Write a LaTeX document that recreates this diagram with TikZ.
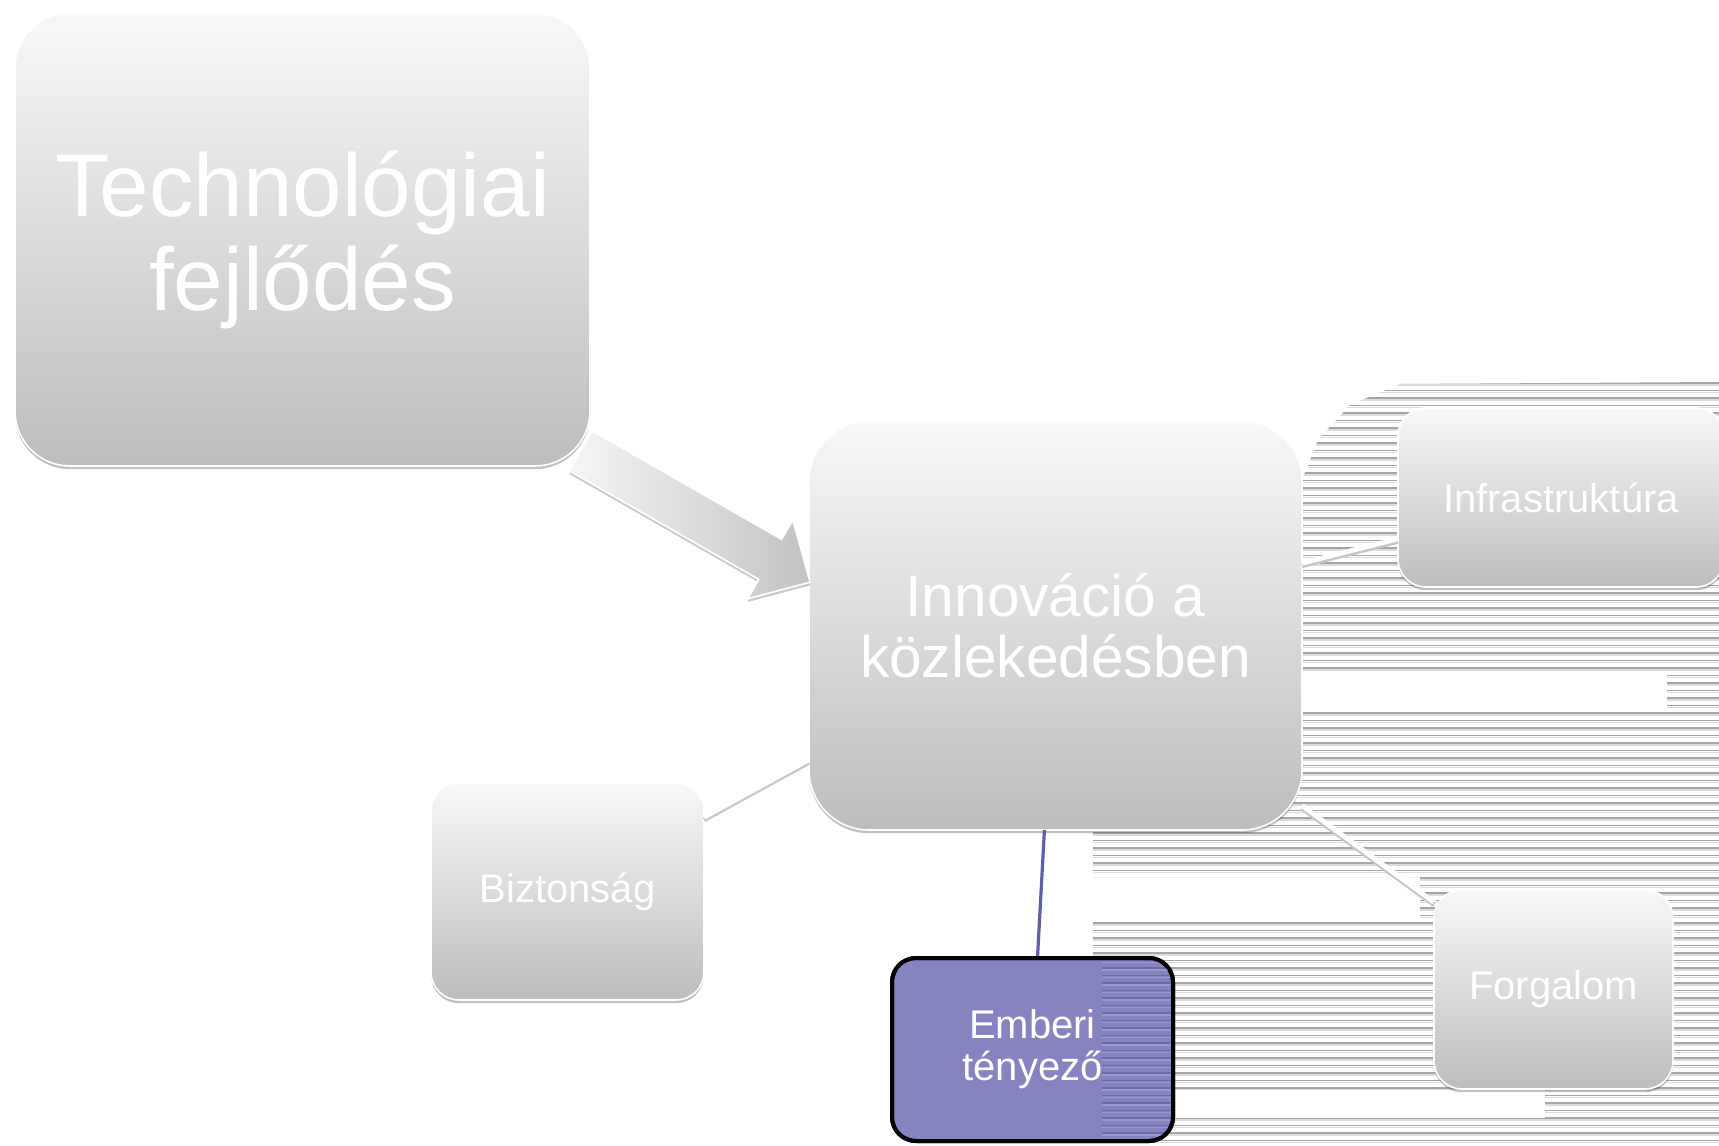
\documentclass[tikz,border=0pt]{standalone}
\usepackage{fontspec}
\setmainfont{Liberation Sans}
\usetikzlibrary{shadows}

\definecolor{boxtop}{HTML}{F8F8F8}
\definecolor{boxbot}{HTML}{BDBDBD}
\definecolor{arrtop}{HTML}{F6F6F6}
\definecolor{arrbot}{HTML}{C2C2C2}
\definecolor{embfill}{HTML}{8583C0}
\definecolor{embline}{HTML}{5F5FA8}
\definecolor{stripedark}{HTML}{A6A6A6}
\definecolor{stripelight}{HTML}{DCDCDC}
\definecolor{pstripedark}{HTML}{6C6AAA}
\definecolor{pstripelight}{HTML}{9A98CC}

\tikzset{
  boxshadow/.style={drop shadow={shadow xshift=0pt, shadow yshift=-1.6pt, opacity=0.35, fill=black!70}},
  gbox/.style={rectangle, draw=white, line width=0.8pt, top color=boxtop, bottom color=boxbot,
    text=white, align=center, inner sep=0pt, outer sep=0pt, boxshadow},
  smalltext/.style={font=\fontsize{20}{21}\selectfont},
  wline/.style={draw=white, line width=2.4pt,
    preaction={draw=black!22, line width=2.4pt, transform canvas={yshift=-1.3pt}}},
  pline/.style={draw=embline, line width=1.6pt},
  stripe/.style={draw=stripedark, line width=0.55pt},
  stripelo/.style={draw=stripelight, line width=0.9pt},
  pstripe/.style={draw=pstripedark, line width=0.55pt},
  pstripelo/.style={draw=pstripelight, line width=0.9pt},
}

\begin{document}
\begin{tikzpicture}[x=0.5pt, y=-0.5pt]
  \useasboundingbox (0,0) rectangle (1719,1146);

  % horizontal banding on the right-hand side
  \begin{scope}
    \clip (1302,480) -- (1318,440) -- (1350,405) -- (1400,384) -- (1719,382)
          -- (1719,674) -- (1302,674) -- cycle
          (1667,674) rectangle (1719,712)
          (1093,712) rectangle (1719,877)
          (1420,877) rectangle (1719,922)
          (1093,922) rectangle (1719,1090)
          (1093,1090) rectangle (1175,1118)
          (1545,1090) rectangle (1719,1118)
          (1093,1118) rectangle (1719,1146);
    \foreach \yy in {383,390.5,...,1146} {
      \draw[stripelo] (1080,\yy+2) -- (1719,\yy+2);
      \draw[stripe] (1080,\yy) -- (1719,\yy);
    }
  \end{scope}

  % main boxes
  \node[gbox, minimum width=287.5pt, minimum height=226.5pt, rounded corners=27.5pt,
        font=\fontsize{44.5}{47}\selectfont] (tech) at (302.5,239.5) {Technológiai\\fejlődés};

  \node[gbox, minimum width=246.5pt, minimum height=204.5pt, rounded corners=30pt,
        font=\fontsize{29.3}{30.5}\selectfont] (innov) at (1055.5,625.5) {Innováció a\\közlekedésben};

  % block arrow from the first box into the central one
  \coordinate (arrtail) at (581,451);
  \begin{scope}[shift={(arrtail)}, rotate=-29.8]
    \path[draw=white, line width=0.8pt, left color=arrtop, right color=arrbot,
          drop shadow={shadow xshift=0pt, shadow yshift=-1.6pt, opacity=0.3, fill=black!70}]
      (0,-23) -- (218,-23) -- (218,-45.5) -- (264,0) -- (218,45.5) -- (218,23) -- (0,23) -- cycle;
  \end{scope}

  % satellite boxes
  \node[gbox, smalltext, minimum width=163pt, minimum height=89.5pt, rounded corners=14pt]
        (infra) at (1561,497.5) {Infrastruktúra};
  \node[gbox, smalltext, minimum width=119.5pt, minimum height=99.5pt, rounded corners=14pt]
        (forg) at (1553.5,989.5) {Forgalom};
  \node[gbox, smalltext, minimum width=136.5pt, minimum height=108.5pt, rounded corners=14pt]
        (bizt) at (567.5,891.5) {Biztonság};
  \node[rectangle, draw=black, line width=2pt, fill=embfill, rounded corners=12pt,
        minimum width=140.5pt, minimum height=91.5pt, inner sep=0pt, outer sep=0pt,
        text=white, align=center, font=\fontsize{20}{21}\selectfont]
        (emb) at (1032.5,1049.5) {Emberi\\tényező};

  % connectors
  \draw[wline] (innov) -- (infra);
  \draw[wline] (innov) -- (forg);
  \draw[wline] (innov) -- (bizt);
  \draw[pline] (innov) -- (emb);

  % banding showing through the right part of the highlighted box
  \begin{scope}
    \clip[rounded corners=12pt] (emb.south west) rectangle (emb.north east);
    \clip (1102,900) rectangle (1200,1146);
    \foreach \yy in {923,930.5,...,1146} {
      \draw[pstripelo] (1100,\yy+2) -- (1200,\yy+2);
      \draw[pstripe] (1100,\yy) -- (1200,\yy);
    }
  \end{scope}
  \draw[line width=2pt, rounded corners=12pt] (emb.south west) rectangle (emb.north east);
\end{tikzpicture}
\end{document}
